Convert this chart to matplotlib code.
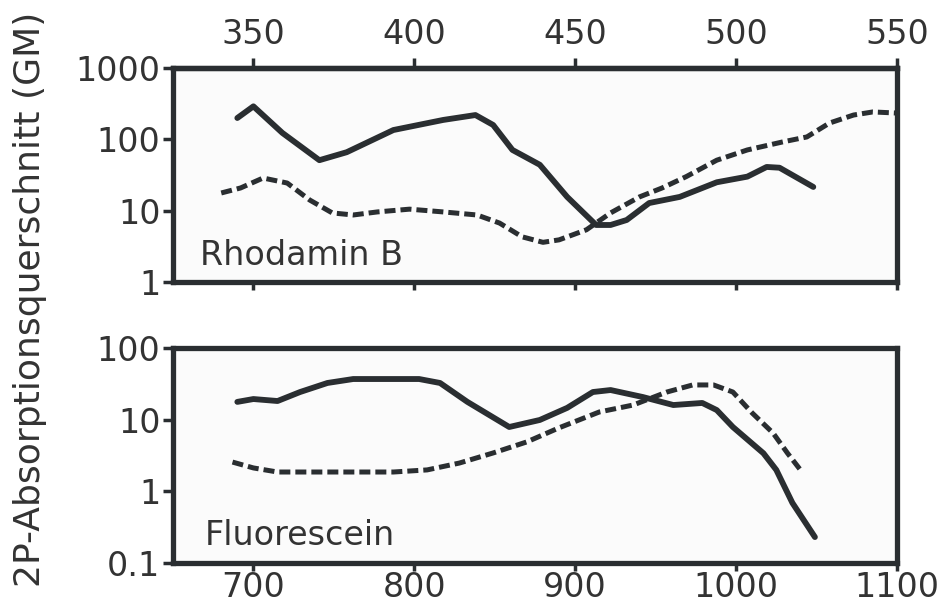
import matplotlib
matplotlib.use("Agg")
import matplotlib.pyplot as plt
import numpy as np
from matplotlib.ticker import FixedLocator, NullLocator, FixedFormatter

# Rhodamin B (top panel), excitation wavelength in nm
rhod_solid_x = [690, 700, 718, 741, 758, 787, 818, 838, 849, 861, 878, 895,
                913, 922, 932, 946, 965, 988, 1007, 1019, 1027, 1048]
rhod_solid_y = [199, 290, 123, 51, 66, 135, 187, 219, 159, 71, 44, 15.6,
                6.3, 6.3, 7.4, 12.8, 15.6, 25, 30, 41, 40, 21.5]
rhod_dash_x = [680, 692, 706, 721, 735, 749, 762, 777, 797, 818, 839, 853,
               867, 880, 890, 907, 922, 940, 954, 969, 988, 1007, 1029,
               1044, 1058, 1073, 1085, 1099]
rhod_dash_y = [17.7, 20.8, 28.7, 24.4, 14.1, 9.3, 8.7, 9.6, 10.5, 9.6, 8.7,
               6.7, 4.3, 3.6, 3.9, 5.4, 9.3, 15.6, 20.8, 30, 51, 71, 92,
               108, 169, 219, 242, 234]

# Fluorescein (bottom panel)
fluo_solid_x = [690, 700, 715, 729, 746, 762, 803, 816, 833, 859, 878, 895,
                911, 922, 942, 961, 979, 988, 998, 1017, 1025, 1035, 1049]
fluo_solid_y = [17.7, 19.4, 18.2, 24.3, 32.5, 36.9, 36.9, 32.5, 17.7, 7.9,
                9.9, 14.6, 24.3, 25.9, 20.7, 16.0, 17.1, 13.6, 7.9, 3.4,
                1.99, 0.69, 0.23]
fluo_dash_x = [687, 700, 715, 746, 787, 808, 828, 849, 870, 890, 915, 936,
               957, 973, 986, 998, 1010, 1023, 1032, 1040]
fluo_dash_y = [2.56, 2.12, 1.86, 1.86, 1.86, 1.99, 2.48, 3.43, 4.9, 7.7,
               12.8, 16.0, 24.3, 30.5, 30.5, 24.3, 12.4, 6.5, 3.4, 1.99]

top_ticks = [350, 400, 450, 500, 550]
bottom_ticks = [700, 800, 900, 1000, 1100]
rhod_yticks = [1, 10, 100, 1000]
fluo_yticks = [0.1, 1, 10, 100]

line_col = '#2a2e31'
text_col = '#333333'
fs = 24

plt.rcParams['font.family'] = 'DejaVu Sans'

fig = plt.figure(figsize=(9.53, 6.07), dpi=100)
ax_top = fig.add_axes([0.1815, 0.5354, 0.7597, 0.3526])
ax_bot = fig.add_axes([0.1815, 0.0725, 0.7597, 0.3542])


def style_axis(ax, yticks, ylabels):
    ax.set_facecolor('#fbfbfb')
    ax.set_yscale('log')
    ax.set_xlim(650, 1100)
    ax.set_ylim(yticks[0], yticks[-1])
    ax.yaxis.set_major_locator(FixedLocator(yticks))
    ax.yaxis.set_major_formatter(FixedFormatter(ylabels))
    ax.yaxis.set_minor_locator(NullLocator())
    ax.xaxis.set_major_locator(FixedLocator(bottom_ticks))
    ax.xaxis.set_minor_locator(NullLocator())
    for sp in ax.spines.values():
        sp.set_linewidth(3.8)
        sp.set_color(line_col)
    ax.tick_params(axis='both', direction='out', length=7, width=2.5,
                   color=line_col, labelcolor=text_col, labelsize=fs, pad=2)
    ax.tick_params(axis='y', right=False)


style_axis(ax_top, rhod_yticks, ['1', '10', '100', '1000'])
style_axis(ax_bot, fluo_yticks, ['0.1', '1', '10', '100'])

ax_top.tick_params(axis='x', labelbottom=False, top=False, length=6)
ax_bot.tick_params(axis='x', top=False, length=6, pad=0)

sec = ax_top.secondary_xaxis('top', functions=(lambda x: x / 2, lambda x: x * 2))
sec.set_xticks(top_ticks)
sec.xaxis.set_minor_locator(NullLocator())
sec.spines['top'].set_linewidth(3.8)
sec.spines['top'].set_color(line_col)
sec.tick_params(direction='out', length=7, width=2.5, color=line_col,
                labelcolor=text_col, labelsize=fs, pad=5)

ax_top.plot(rhod_solid_x, rhod_solid_y, '-', color=line_col, lw=4.2,
            solid_joinstyle='round', solid_capstyle='round')
ax_top.plot(rhod_dash_x, rhod_dash_y, '--', color=line_col, lw=3.6,
            dashes=(2.2, 1.0))
ax_bot.plot(fluo_solid_x, fluo_solid_y, '-', color=line_col, lw=4.2,
            solid_joinstyle='round', solid_capstyle='round')
ax_bot.plot(fluo_dash_x, fluo_dash_y, '--', color=line_col, lw=3.6,
            dashes=(2.2, 1.0))

ax_top.text(0.037, 0.08, 'Rhodamin B', transform=ax_top.transAxes,
            fontsize=fs, color=text_col, ha='left', va='baseline')
ax_bot.text(0.044, 0.084, 'Fluorescein', transform=ax_bot.transAxes,
            fontsize=fs, color=text_col, ha='left', va='baseline')

fig.text(0.032, 0.507, '2P-Absorptionsquerschnitt (GM)', rotation=90,
         fontsize=26, color=text_col, ha='center', va='center')

fig.savefig('out.png', dpi=100)
